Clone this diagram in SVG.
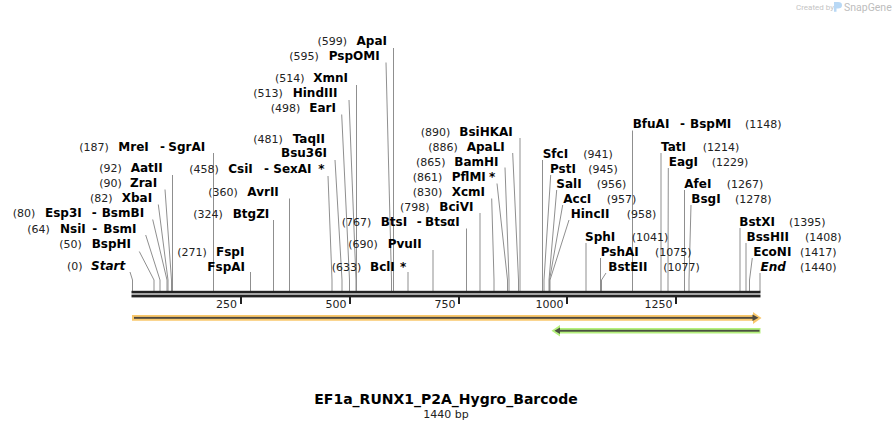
<svg xmlns="http://www.w3.org/2000/svg" width="893" height="430" viewBox="0 0 893 430">
<style>
.n{font-family:"DejaVu Sans",Verdana,sans-serif;font-size:11px;fill:#222}
.b{font-family:"DejaVu Sans",Verdana,sans-serif;font-size:12px;font-weight:bold;fill:#000}
.i{font-style:italic}
.c{stroke:#8f8f8f;stroke-width:1;fill:none}
.tk{font-family:"DejaVu Sans",Verdana,sans-serif;font-size:11px;fill:#222;text-anchor:end}
</style>
<rect width="893" height="430" fill="#fff"/>
<g id="credit">
<text x="796" y="10" font-family="Roboto,'DejaVu Sans',sans-serif" font-size="8" fill="#c4c4c4">Created by</text>
<path d="M834 2 h4 a4 3.2 0 0 1 0 6.4 h-1.5 v3.3 h-2.5 z" fill="#b8d8f5"/>
<text x="844" y="11" font-family="Roboto,'DejaVu Sans',sans-serif" font-size="10.5" fill="#bdbdbd">SnapGene</text>
</g>
<g id="connectors">
<path class="c" d="M130 272 L132.5 280 V291"/>
<path class="c" d="M139.3 251.5 L154 280 V291"/>
<path class="c" d="M145.7 235 L160 280 V291"/>
<path class="c" d="M152.7 219.5 L167 280 V291"/>
<path class="c" d="M158.3 204.5 L168 280 V291"/>
<path class="c" d="M165 189.5 L171.5 280 V291"/>
<path class="c" d="M172.5 175 V291"/>
<path class="c" d="M213.5 153 V291"/>
<path class="c" d="M250.5 272 V291"/>
<path class="c" d="M273.5 220 V291"/>
<path class="c" d="M289.5 198.5 V291"/>
<path class="c" d="M328 176 L332 280 V291"/>
<path class="c" d="M335 160 L342 280 V291"/>
<path class="c" d="M341.7 114.5 L349.5 280 V291"/>
<path class="c" d="M349 100 L356 280 V291"/>
<path class="c" d="M356.5 85 V291"/>
<path class="c" d="M386 62.5 L391.5 280 V291"/>
<path class="c" d="M393.5 48 V291"/>
<path class="c" d="M408 272 V291"/>
<path class="c" d="M433 250 V291"/>
<path class="c" d="M466.5 228.5 V291"/>
<path class="c" d="M480 213 V291"/>
<path class="c" d="M491.7 198.5 L494 280 V291"/>
<path class="c" d="M497 183.5 L507.5 280 V291"/>
<path class="c" d="M505 167.5 L509 280 V291"/>
<path class="c" d="M512.7 153 L518.5 280 V291"/>
<path class="c" d="M520 138 V291"/>
<path class="c" d="M542.5 160 V291"/>
<path class="c" d="M550.7 175 L544 280 V291"/>
<path class="c" d="M556.7 190 L549 280 V291"/>
<path class="c" d="M562.7 205 L549.5 280 V291"/>
<path class="c" d="M569 220 L550 280 V291"/>
<path class="c" d="M586 243 V291"/>
<path class="c" d="M600.5 258 V291"/>
<path class="c" d="M606 273 L601.5 280 V291"/>
<path class="c" d="M632.5 130.5 V291"/>
<path class="c" d="M661 153 V291"/>
<path class="c" d="M668.3 168 L668 280 V291"/>
<path class="c" d="M684.5 190 V291"/>
<path class="c" d="M691 205 L689 280 V291"/>
<path class="c" d="M740 228 V291"/>
<path class="c" d="M746 243 V291"/>
<path class="c" d="M752.3 258 L749.5 280 V291"/>
<path class="c" d="M760 273 V291"/>
</g>
<g id="sequence-bar">
<rect x="131.5" y="290.8" width="629" height="2.6" fill="#222"/>
<rect x="131.5" y="294.6" width="629" height="2.8" fill="#222"/>
<rect x="240" y="297" width="2" height="7" fill="#222"/>
<rect x="349" y="297" width="2" height="7" fill="#222"/>
<rect x="458" y="297" width="2" height="7" fill="#222"/>
<rect x="566" y="297" width="2" height="7" fill="#222"/>
<rect x="675" y="297" width="2" height="7" fill="#222"/>
<text class="tk" x="237" y="308">250</text>
<text class="tk" x="346.5" y="308">500</text>
<text class="tk" x="455.5" y="308">750</text>
<text class="tk" x="563.5" y="308">1000</text>
<text class="tk" x="672.5" y="308">1250</text>
</g>
<g id="feature-orange">
<path d="M132 315 H753 V312 L761.5 318 L753 324 V320.7 H132 Z" fill="#f9c86c"/>
<rect x="134" y="316.9" width="620" height="1.9" fill="#4f4a40"/>
<path d="M752.5 314.6 L758.5 317.85 L752.5 321.1 Z" fill="#4f4a40"/>
</g>
<g id="feature-green">
<path d="M760.5 328 H560 V325 L551.5 330.7 L560 336.4 V333.4 H760.5 Z" fill="#b4f07c"/>
<rect x="558" y="329.8" width="201.5" height="1.9" fill="#4a5040"/>
<path d="M560 327.4 L554.5 330.75 L560 334.1 Z" fill="#4a5040"/>
</g>
<g id="site-0"><text class="n" x="67" y="270">(0)</text><text class="b i" x="91" y="270">Start</text></g>
<g id="site-50"><text class="n" x="59.3" y="248">(50)</text><text class="b" x="91.7" y="248">BspHI</text></g>
<g id="site-64"><text class="n" x="27.3" y="232.5">(64)</text><text class="b" x="60" y="232.5">NsiI</text><text class="b" x="92.3" y="232.5">-</text><text class="b" x="103.3" y="232.5">BsmI</text></g>
<g id="site-80"><text class="n" x="12.7" y="217">(80)</text><text class="b" x="45" y="217">Esp3I</text><text class="b" x="91.7" y="217">-</text><text class="b" x="101.7" y="217">BsmBI</text></g>
<g id="site-82"><text class="n" x="90" y="202">(82)</text><text class="b" x="121.7" y="202">XbaI</text></g>
<g id="site-90"><text class="n" x="99.3" y="187">(90)</text><text class="b" x="130" y="187">ZraI</text></g>
<g id="site-92"><text class="n" x="99.3" y="172">(92)</text><text class="b" x="130.7" y="172">AatII</text></g>
<g id="site-187"><text class="n" x="79.3" y="150.5">(187)</text><text class="b" x="118.3" y="150.5">MreI</text><text class="b" x="160" y="150.5">-</text><text class="b" x="168.3" y="150.5">SgrAI</text></g>
<g id="site-271"><text class="n" x="177.3" y="256">(271)</text><text class="b" x="216" y="256">FspI</text><text class="b" x="207.3" y="271">FspAI</text></g>
<g id="site-324"><text class="n" x="193.3" y="218">(324)</text><text class="b" x="232.7" y="218">BtgZI</text></g>
<g id="site-360"><text class="n" x="208.3" y="196">(360)</text><text class="b" x="247.3" y="196">AvrII</text></g>
<g id="site-458"><text class="n" x="189.3" y="173">(458)</text><text class="b" x="228.3" y="173">CsiI</text><text class="b" x="264" y="173">-</text><text class="b" x="273.3" y="173">SexAI</text><text class="b" x="318.3" y="173">*</text></g>
<g id="site-481"><text class="n" x="253.3" y="142.5">(481)</text><text class="b" x="292.7" y="142.5">TaqII</text><text class="b" x="281" y="157">Bsu36I</text></g>
<g id="site-498"><text class="n" x="270.7" y="112">(498)</text><text class="b" x="309.3" y="112">EarI</text></g>
<g id="site-513"><text class="n" x="253.3" y="97">(513)</text><text class="b" x="292.7" y="97">HindIII</text></g>
<g id="site-514"><text class="n" x="275" y="82">(514)</text><text class="b" x="313.3" y="82">XmnI</text></g>
<g id="site-595"><text class="n" x="289.3" y="60">(595)</text><text class="b" x="328.7" y="60">PspOMI</text></g>
<g id="site-599"><text class="n" x="317.5" y="45">(599)</text><text class="b" x="356.5" y="45">ApaI</text></g>
<g id="site-633"><text class="n" x="331.7" y="270.5">(633)</text><text class="b" x="370" y="270.5">BclI</text><text class="b" x="400" y="270.5">*</text></g>
<g id="site-690"><text class="n" x="348.3" y="248">(690)</text><text class="b" x="387.7" y="248">PvuII</text></g>
<g id="site-767"><text class="n" x="341.7" y="226">(767)</text><text class="b" x="380.7" y="226">BtsI</text><text class="b" x="416.7" y="226">-</text><text class="b" x="425" y="226">BtsαI</text></g>
<g id="site-798"><text class="n" x="400" y="211">(798)</text><text class="b" x="439.3" y="211">BciVI</text></g>
<g id="site-830"><text class="n" x="412.7" y="196">(830)</text><text class="b" x="451.7" y="196">XcmI</text></g>
<g id="site-861"><text class="n" x="412.7" y="181">(861)</text><text class="b" x="451.7" y="181">PflMI</text><text class="b" x="489" y="181">*</text></g>
<g id="site-865"><text class="n" x="416" y="166">(865)</text><text class="b" x="454.3" y="166">BamHI</text></g>
<g id="site-886"><text class="n" x="428.3" y="150.5">(886)</text><text class="b" x="466.7" y="150.5">ApaLI</text></g>
<g id="site-890"><text class="n" x="420.7" y="135.5">(890)</text><text class="b" x="459.3" y="135.5">BsiHKAI</text></g>
<g id="site-941"><text class="b" x="542.7" y="158">SfcI</text><text class="n" x="583.3" y="158">(941)</text></g>
<g id="site-945"><text class="b" x="550" y="173">PstI</text><text class="n" x="588.3" y="173">(945)</text></g>
<g id="site-956"><text class="b" x="556.3" y="188">SalI</text><text class="n" x="596.7" y="188">(956)</text></g>
<g id="site-957"><text class="b" x="563.3" y="203">AccI</text><text class="n" x="606.7" y="203">(957)</text></g>
<g id="site-958"><text class="b" x="570.7" y="218">HincII</text><text class="n" x="626.7" y="218">(958)</text></g>
<g id="site-1041"><text class="b" x="585" y="241">SphI</text><text class="n" x="631.7" y="241">(1041)</text></g>
<g id="site-1075"><text class="b" x="600.7" y="256">PshAI</text><text class="n" x="655" y="256">(1075)</text></g>
<g id="site-1077"><text class="b" x="608.3" y="271">BstEII</text><text class="n" x="663.3" y="271">(1077)</text></g>
<g id="site-1148"><text class="b" x="632.7" y="128">BfuAI</text><text class="b" x="680" y="128">-</text><text class="b" x="690" y="128">BspMI</text><text class="n" x="745" y="128">(1148)</text></g>
<g id="site-1214"><text class="b" x="661" y="151">TatI</text><text class="n" x="702.7" y="151">(1214)</text></g>
<g id="site-1229"><text class="b" x="668.7" y="166">EagI</text><text class="n" x="711.7" y="166">(1229)</text></g>
<g id="site-1267"><text class="b" x="684.3" y="188">AfeI</text><text class="n" x="726.7" y="188">(1267)</text></g>
<g id="site-1278"><text class="b" x="691.3" y="203">BsgI</text><text class="n" x="735" y="203">(1278)</text></g>
<g id="site-1395"><text class="b" x="739.3" y="226">BstXI</text><text class="n" x="789" y="226">(1395)</text></g>
<g id="site-1408"><text class="b" x="746.5" y="241">BssHII</text><text class="n" x="805" y="241">(1408)</text></g>
<g id="site-1417"><text class="b" x="753.3" y="256">EcoNI</text><text class="n" x="800" y="256">(1417)</text></g>
<g id="site-1440"><text class="b i" x="760.5" y="271">End</text><text class="n" x="800" y="271">(1440)</text></g>
<g id="title">
<text x="446" y="404" text-anchor="middle" font-family="'DejaVu Sans',Verdana,sans-serif" font-size="14" font-weight="bold" fill="#000">EF1a_RUNX1_P2A_Hygro_Barcode</text>
<text x="446" y="417.5" text-anchor="middle" font-family="'DejaVu Sans',Verdana,sans-serif" font-size="11" fill="#222">1440 bp</text>
</g>
</svg>
